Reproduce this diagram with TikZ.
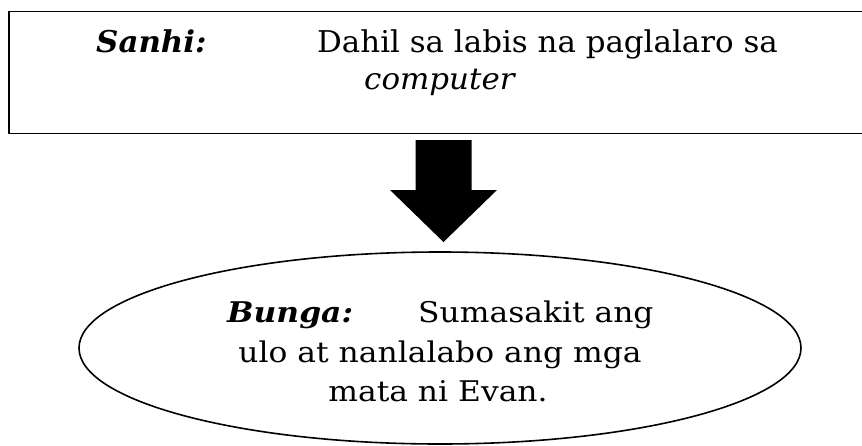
\documentclass[tikz,border=0pt]{standalone}
\usepackage{fontspec}
\setmainfont{DejaVu Serif}
\newfontfamily\rectfont{DejaVu Serif}[FakeStretch=1.03]
\newfontfamily\ovalfont{DejaVu Serif}[FakeStretch=1.1]
\usetikzlibrary{shapes.geometric}
\tikzset{
  boxline/.style={draw=black, line width=1.8pt},
  ovalline/.style={draw=black, line width=1.6pt},
  recttext/.style={anchor=base west, inner sep=0pt, font=\rectfont\fontsize{30}{37}\selectfont},
  ovaltext/.style={anchor=base, inner sep=0pt, font=\ovalfont\fontsize{28.5}{40}\selectfont},
}
\begin{document}
\begin{tikzpicture}[x=1pt,y=-1pt]
\useasboundingbox (0,0) rectangle (862,445);
% cause box
\node (sanhibox) [boxline, anchor=north west, minimum width=880pt, minimum height=122pt, inner sep=0pt] at (8,10.5) {};
\node (sanhilabel) [recttext] at (96,52) {\textbf{\textit{Sanhi:}}};
\node (sanhi1) [recttext] at (317,52) {Dahil sa labis na paglalaro sa};
\node (sanhi2) [recttext] at (364,89) {\textit{computer}};
% effect oval
\node (bungaoval) [ovalline, ellipse, minimum width=722pt, minimum height=192pt, inner sep=0pt] at (440,348) {};
\node (bunga1a) [ovaltext, anchor=base west] at (227,322) {\textbf{\textit{Bunga:}}};
\node (bunga1b) [ovaltext, anchor=base west] at (418,322) {Sumasakit ang};
\node (bunga2) [ovaltext] at (440,362) {ulo at nanlalabo ang mga};
\node (bunga3) [ovaltext] at (438,401) {mata ni Evan.};
% block arrow
\coordinate (atl) at (415.5,140);
\coordinate (atr) at (471.5,140);
\coordinate (atip) at (443.5,242);
\fill[black] (atl) -- (atr) -- (471.5,190) -- (497,190) -- (atip) -- (390,190) -- (415.5,190) -- cycle;
\end{tikzpicture}
\end{document}
